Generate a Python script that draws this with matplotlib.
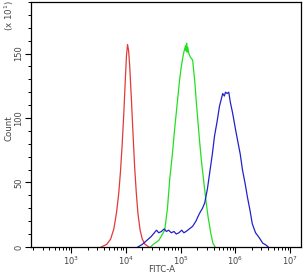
import numpy as np
import matplotlib
matplotlib.use("Agg")
import matplotlib.pyplot as plt
from matplotlib.ticker import LogLocator, MultipleLocator, FixedLocator

# log10(FITC-A) positions and counts (units of 10^1)
red_logx = [3.55, 3.65, 3.72, 3.78, 3.83, 3.87, 3.90, 3.93, 3.96, 3.99, 4.01, 4.03,
            4.05, 4.07, 4.10, 4.13, 4.16, 4.19, 4.22, 4.26, 4.30, 4.35, 4.42]
red_count = [0, 2, 6, 14, 27, 42, 58, 78, 102, 130, 148, 157,
             152, 140, 115, 88, 62, 42, 26, 13, 6, 2, 0]

green_logx = [4.45, 4.50, 4.60, 4.71, 4.76, 4.80, 4.85, 4.89, 4.94, 4.98, 5.01, 5.04,
              5.07, 5.09, 5.10, 5.11, 5.12, 5.13, 5.15, 5.18, 5.22, 5.26, 5.29, 5.345,
              5.38, 5.42, 5.46, 5.50, 5.55, 5.59, 5.63]
green_count = [0, 2, 5, 13, 30, 52, 72, 91, 112, 129, 139, 147,
               153, 156, 152, 158, 151, 155, 150, 147, 145, 128, 111, 83,
               67, 52, 37, 24, 11, 3, 0]

blue_logx = [4.22, 4.30, 4.38, 4.46, 4.52, 4.56, 4.60, 4.65, 4.70, 4.74, 4.78, 4.83,
             4.88, 4.92, 4.97, 5.02, 5.06, 5.10, 5.16, 5.22, 5.28, 5.345, 5.40, 5.44,
             5.49, 5.53, 5.58, 5.62, 5.67, 5.71, 5.74, 5.77, 5.80, 5.82, 5.85, 5.88,
             5.91, 5.95, 6.00, 6.04, 6.09, 6.13, 6.18, 6.22, 6.27, 6.31, 6.37, 6.44,
             6.50, 6.56, 6.60]
blue_count = [0, 2, 5, 8, 11, 13, 11, 12, 14, 12, 13, 11,
              12, 10, 11, 13, 11, 12, 14, 16, 20, 26, 30, 34,
              45, 57, 72, 86, 98, 109, 114, 119, 117, 120, 119, 120,
              112, 104, 92, 83, 72, 60, 49, 39, 28, 18, 11, 7,
              3, 1.5, 0]

y_ticks = [0, 50, 100, 150]
x_decades = [3, 4, 5, 6, 7]

fig = plt.figure(figsize=(3.04, 2.75), dpi=100)
ax = fig.add_axes([0.101, 0.102, 0.889, 0.891])

ax.plot(10 ** np.array(red_logx), red_count, color="#e03a3a", lw=0.9)
ax.plot(10 ** np.array(green_logx), green_count, color="#22e022", lw=0.9)
ax.plot(10 ** np.array(blue_logx), blue_count, color="#2222c8", lw=0.9)

ax.set_xscale("log")
ax.set_xlim(10 ** 2.26, 10 ** 7.2)
ax.set_ylim(0, 190)

ax.xaxis.set_major_locator(FixedLocator([10.0 ** d for d in x_decades]))
ax.xaxis.set_minor_locator(LogLocator(base=10, subs=np.arange(2, 10), numticks=20))
ax.set_xticklabels([r"$10^{%d}$" % d for d in x_decades])
ax.yaxis.set_major_locator(FixedLocator(y_ticks))
ax.yaxis.set_minor_locator(MultipleLocator(10))
ax.set_yticklabels([str(v) for v in y_ticks])

tc = "#444444"
ax.tick_params(axis="both", which="major", direction="out", length=4, width=0.8,
               labelsize=6, labelcolor=tc, pad=1.5)
ax.tick_params(axis="both", which="minor", direction="out", length=2.5, width=0.7)
for lab in ax.get_yticklabels():
    lab.set_rotation(90)
    lab.set_va("center")

for s in ax.spines.values():
    s.set_linewidth(0.9)

fig.text(162 / 304, 1 - 269 / 275, "FITC-A", fontsize=6.2, color=tc, ha="center", va="center")
fig.text(9 / 304, 1 - 128 / 275, "Count", fontsize=6.2, color=tc, ha="center", va="center", rotation=90)
fig.text(9 / 304, 1 - 16 / 275, r"(x 10$^{1}$)", fontsize=6.2, color=tc, ha="center", va="center", rotation=90)

fig.savefig("out.png", dpi=100)
